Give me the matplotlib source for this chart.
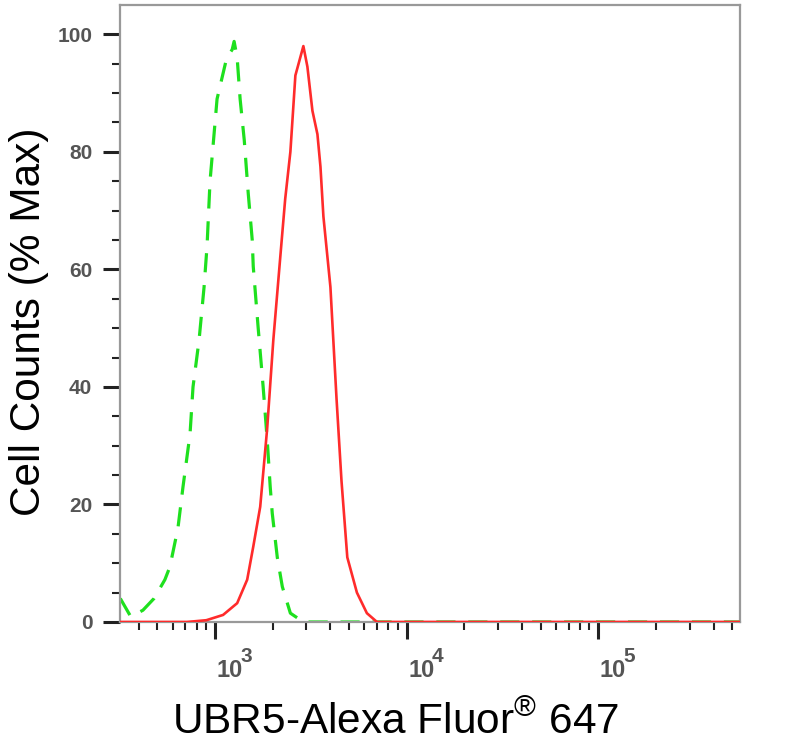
import matplotlib
matplotlib.use("Agg")
from matplotlib import pyplot as plt
from matplotlib.ticker import FixedLocator, LogLocator, NullFormatter

plt.rcParams['font.family'] = ['Liberation Sans', 'DejaVu Sans']
plt.rcParams['mathtext.fontset'] = 'custom'
plt.rcParams['mathtext.rm'] = 'Liberation Sans'
plt.rcParams['mathtext.it'] = 'Liberation Sans'

# isotype control (green dashed)
ctrl_x = [320, 363, 420, 480, 547, 581, 640, 680, 740, 767, 825, 876, 908, 941,
          1024, 1150, 1228, 1257, 1304, 1351, 1420, 1489, 1563, 1582, 1679, 1782,
          1871, 1940, 1988, 2112, 2244, 2472, 2890, 550000]
ctrl_y = [4, 0.9, 2, 4, 7.2, 9.4, 16, 23, 32, 40, 48, 57, 64, 75,
          89, 96, 97.4, 98.8, 96, 89, 82, 73, 65, 60.5, 50, 40,
          31, 23, 18.5, 11, 6, 1.5, 0, 0]

# UBR5 stained (red solid)
ubr5_x = [320, 713, 900, 1101, 1304, 1471, 1582, 1720, 1871, 2014, 2188, 2323,
          2472, 2625, 2890, 3033, 3222, 3422, 3548, 3677, 4000, 4305, 4570, 4900,
          5500, 6200, 7000, 550000]
ubr5_y = [0, 0, 0.3, 1.2, 3.2, 7.2, 12.8, 19.6, 33, 48, 62, 72,
          80, 93, 98, 94.5, 87, 83, 77.5, 69, 57, 38, 24, 11,
          5, 1.5, 0, 0]

xticks = [1e3, 1e4, 1e5]
xexps = ['3', '4', '5']
yticks = [0, 20, 40, 60, 80, 100]

fig = plt.figure(figsize=(8.11, 7.52), dpi=100)
ax = fig.add_axes([0.148, 0.1729, 0.7645, 0.8205])

ax.plot(ubr5_x, ubr5_y, color='#ff2b2b', lw=1.9, zorder=3)
ax.plot(ctrl_x, ctrl_y, color='#1ee01e', lw=2.3, dashes=(6, 4), zorder=2)

ax.set_xscale('log')
ax.set_xlim(319, 5.5e5)
ax.set_ylim(0, 105)

ax.xaxis.set_major_locator(FixedLocator(xticks))
ax.xaxis.set_minor_locator(LogLocator(base=10, subs=range(2, 10)))
ax.xaxis.set_minor_formatter(NullFormatter())
ax.set_xticklabels([])
ax.set_yticks(yticks)
ax.set_yticks(range(0, 105, 5), minor=True)

ax.tick_params(axis='both', which='major', length=12, width=2.2, color='#222222')
ax.tick_params(axis='y', which='major', labelsize=15, labelcolor='#555555', pad=8)
ax.tick_params(axis='both', which='minor', length=6, width=1.5, color='#222222')
for lab in ax.get_yticklabels():
    lab.set_fontweight('bold')

# decade labels, drawn as "10" with a large exponent
narrow = ['Liberation Sans Narrow', 'Liberation Sans']
xtr = ax.get_xaxis_transform()
for xv, e in zip(xticks, xexps):
    ax.annotate('10', xy=(xv, 0), xycoords=xtr, xytext=(1.2, -39.6), textcoords='offset points',
                ha='left', va='baseline', fontsize=17, fontweight='bold', color='#555555',
                family=narrow)
    ax.annotate(e, xy=(xv, 0), xycoords=xtr, xytext=(18, -28.8), textcoords='offset points',
                ha='left', va='baseline', fontsize=15, fontweight='bold', color='#555555',
                family=narrow)

for side in ['left', 'right', 'top', 'bottom']:
    ax.spines[side].set_color('#999999')
    ax.spines[side].set_linewidth(1.6)

ax.set_xlabel('UBR5-Alexa Fluor$^{\u00ae}$ 647', fontsize=30.5)
ax.set_ylabel('Cell Counts (% Max)', fontsize=30.5)
ax.xaxis.set_label_coords(0.444, -0.13)
ax.yaxis.set_label_coords(-0.114, 0.486)

fig.savefig('out.png', dpi=100)
